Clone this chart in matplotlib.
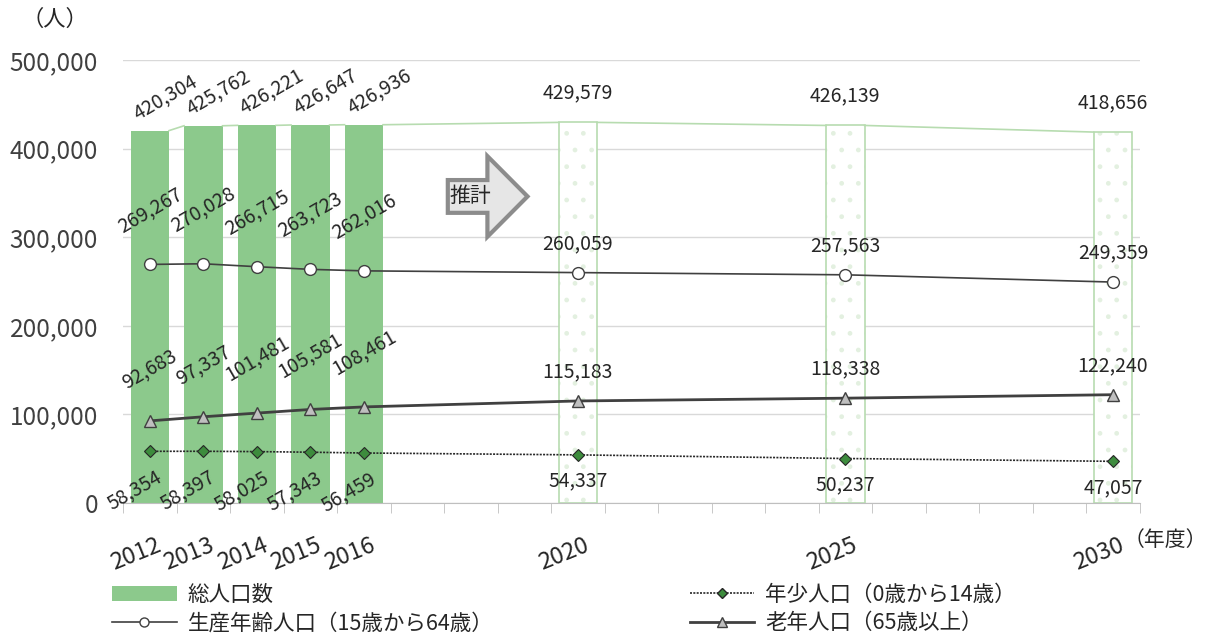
import matplotlib.pyplot as plt
from matplotlib.lines import Line2D
from matplotlib.patches import Patch, FancyArrow
from matplotlib.transforms import ScaledTranslation
import numpy as np

plt.rcParams['font.family'] = ['Noto Sans CJK JP', 'DejaVu Sans']

# 年度別人口（2012-2016 実績、2020 以降は推計）
years = [2012, 2013, 2014, 2015, 2016, 2020, 2025, 2030]
total = [420304, 425762, 426221, 426647, 426936, 429579, 426139, 418656]
working = [269267, 270028, 266715, 263723, 262016, 260059, 257563, 249359]
elderly = [92683, 97337, 101481, 105581, 108461, 115183, 118338, 122240]
youth = [58354, 58397, 58025, 57343, 56459, 54337, 50237, 47057]
n_actual = 5

label_total = '総人口数'
label_working = '生産年齢人口（15歳から64歳）'
label_youth = '年少人口（0歳から14歳）'
label_elderly = '老年人口（65歳以上）'

green = '#8cc98c'
light_green = '#b7dcb0'
dark = '#404040'
text_col = '#262626'

fig = plt.figure(figsize=(12.06, 6.43), dpi=100)
ax = fig.add_axes([0.102, 0.2177, 0.843, 0.689])

bar_w = 0.72

# 実績は塗りつぶし、推計はドット柄
ax.bar(years[:n_actual], total[:n_actual], width=bar_w, color=green, zorder=2)
ax.bar(years[n_actual:], total[n_actual:], width=bar_w, color='white',
       edgecolor='#e3f0e0', hatch='.', linewidth=0, zorder=2)
ax.bar(years[n_actual:], total[n_actual:], width=bar_w, fill=False,
       edgecolor=light_green, linewidth=1.2, zorder=2)

# 区分線（棒の上端どうしを結ぶ）
for i in range(len(years) - 1):
    ax.plot([years[i] + bar_w / 2, years[i + 1] - bar_w / 2],
            [total[i], total[i + 1]], color=light_green, lw=1.2, zorder=2)

ax.plot(years, working, color=dark, lw=1.2, marker='o', ms=8.5,
        mfc='white', mec=dark, mew=1, zorder=4)
ax.plot(years, elderly, color=dark, lw=2, marker='^', ms=9,
        mfc='#bfbfbf', mec=dark, mew=1, zorder=4)
ax.plot(years, youth, color=text_col, lw=1.2, ls=(0, (1.2, 0.8)), marker='D',
        ms=6.5, mfc='#3d8c3d', mec=text_col, mew=0.8, zorder=4)


def fmt(v):
    return f'{v:,}'


lab_fs = 14
for i, yr in enumerate(years):
    if i < n_actual:
        ax.annotate(fmt(total[i]), (yr, total[i]), xytext=(11, 5),
                    textcoords='offset points', rotation=30, ha='center',
                    va='bottom', fontsize=lab_fs, color=text_col, zorder=6)
        for ser in (working, elderly):
            ax.annotate(fmt(ser[i]), (yr, ser[i]), xytext=(0, 20),
                        textcoords='offset points', rotation=30, ha='center',
                        va='bottom', fontsize=lab_fs, color=text_col, zorder=6)
        ax.annotate(fmt(youth[i]), (yr, youth[i]), xytext=(-11, -11),
                    textcoords='offset points', rotation=30, ha='center',
                    va='top', fontsize=lab_fs, color=text_col, zorder=6)
    else:
        for ser in (total, working, elderly):
            ax.annotate(fmt(ser[i]), (yr, ser[i]), xytext=(0, 21),
                        textcoords='offset points', ha='center', va='center',
                        fontsize=lab_fs, color=text_col, zorder=6)
        ax.annotate(fmt(youth[i]), (yr, youth[i]), xytext=(0, -19),
                    textcoords='offset points', ha='center', va='center',
                    fontsize=lab_fs, color=text_col, zorder=6)

# 推計の矢印
ax.add_patch(FancyArrow(2017.57, 346000, 1.49, 0, width=37000, head_width=91000,
                        head_length=0.75, length_includes_head=True,
                        fc='#e6e6e6', ec='#8c8c8c', lw=3, zorder=5))
ax.text(2018.0, 347000, '推計', ha='center', va='center', fontsize=15,
        color=text_col, zorder=6)

ax.set_xlim(2011.5, 2030.5)
ax.set_ylim(0, 500000)

ax.set_yticks(range(0, 500001, 100000))
ax.set_yticklabels([fmt(v) for v in range(0, 500001, 100000)])
ax.tick_params(axis='y', length=0, labelsize=17.5, labelcolor=dark, pad=18)
ax.yaxis.grid(True, color='#d9d9d9', lw=1)
ax.set_axisbelow(True)

ax.set_xticks(years)
ax.set_xticklabels([str(y) for y in years], rotation=22, ha='right',
                   rotation_mode='anchor')
ax.set_xticks(np.arange(2011.5, 2031, 1), minor=True)
ax.tick_params(axis='x', which='major', length=0, labelsize=17,
               labelcolor=text_col, pad=22)
ax.tick_params(axis='x', which='minor', length=7, color='#bfbfbf')
offset = ScaledTranslation(0.06, 0, fig.dpi_scale_trans)
for lab in ax.get_xticklabels():
    lab.set_transform(lab.get_transform() + offset)

for side in ('top', 'right', 'left'):
    ax.spines[side].set_visible(False)
ax.spines['bottom'].set_color('#bfbfbf')

fig.text(0.932, 0.16, '（年度）', ha='left', va='center', fontsize=15,
         color=text_col)
fig.text(0.018, 0.97, '（人）', ha='left', va='center', fontsize=16,
         color=text_col)

h_total = Patch(fc=green, ec='none')
h_working = Line2D([], [], color=dark, lw=1.2, marker='o', ms=6.5,
                   mfc='white', mec=dark)
h_youth = Line2D([], [], color=text_col, lw=1.2, ls=(0, (1.2, 0.8)),
                 marker='D', ms=5.5, mfc='#3d8c3d', mec=text_col)
h_elderly = Line2D([], [], color=dark, lw=2, marker='^', ms=6.5,
                   mfc='#bfbfbf', mec=dark)

leg_kw = dict(loc='upper left', frameon=False, fontsize=15.5, handlelength=3.0,
              labelspacing=0.3, handletextpad=0.5, borderaxespad=0,
              borderpad=0, labelcolor=text_col)
fig.legend([h_total, h_working], [label_total, label_working],
           bbox_to_anchor=(0.093, 0.092), **leg_kw)
fig.legend([h_youth, h_elderly], [label_youth, label_elderly],
           bbox_to_anchor=(0.572, 0.092), **leg_kw)

fig.savefig('out.png', dpi=100)
